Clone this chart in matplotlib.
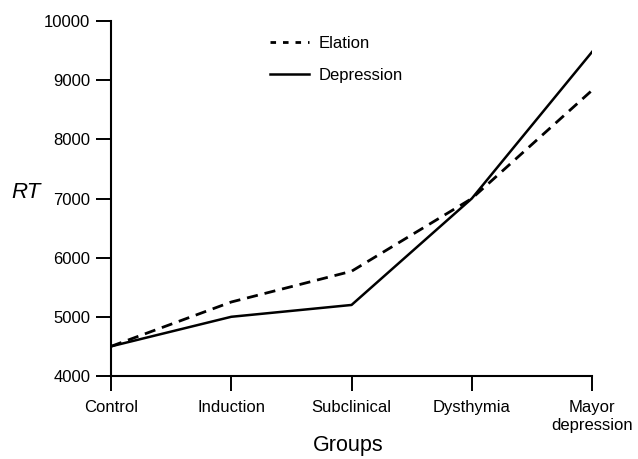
import matplotlib
matplotlib.use("Agg")
import matplotlib.pyplot as plt

groups = ["Control", "Induction", "Subclinical", "Dysthymia", "Mayor\ndepression"]
elation = [4500, 5250, 5770, 7000, 8830]
depression = [4500, 5000, 5200, 7000, 9480]
yticks = [4000, 5000, 6000, 7000, 8000, 9000, 10000]

plt.rcParams["font.family"] = ["Liberation Sans", "DejaVu Sans"]

fig = plt.figure(figsize=(6.38, 4.59), dpi=100)
ax = fig.add_axes([0.174, 0.181, 0.754, 0.773])
x = list(range(len(groups)))
ax.plot(x, elation, color="black", lw=2, ls=(0, (4, 2.5)), label="Elation")
ax.plot(x, depression, color="black", lw=1.8, ls="-", label="Depression")
ax.set_xlim(0, len(groups) - 1)
ax.set_ylim(4000, 10000)
ax.set_yticks(yticks)
ax.set_xticks(x)
ax.set_xticklabels(groups, fontsize=12, linespacing=1.25)
ax.tick_params(axis="y", labelsize=12, length=11, width=1.4, direction="out", pad=4)
ax.tick_params(axis="x", length=11, width=1.4, direction="out", pad=6)
for s in ["top", "right"]:
    ax.spines[s].set_visible(False)
for s in ["left", "bottom"]:
    ax.spines[s].set_linewidth(1.5)
fig.text(0.546, 0.03, "Groups", fontsize=15.5, ha="center", va="center")
fig.text(0.041, 0.58, "RT", fontsize=16, style="italic", ha="center", va="center")
leg = ax.legend(loc="upper left", bbox_to_anchor=(0.3, 1.0), frameon=False, fontsize=12,
                handlelength=2.3, handletextpad=0.6, labelspacing=1.0)
leg.get_lines()[0].set_linestyle((0, (2, 2.5)))
fig.savefig("out.png", dpi=100)
